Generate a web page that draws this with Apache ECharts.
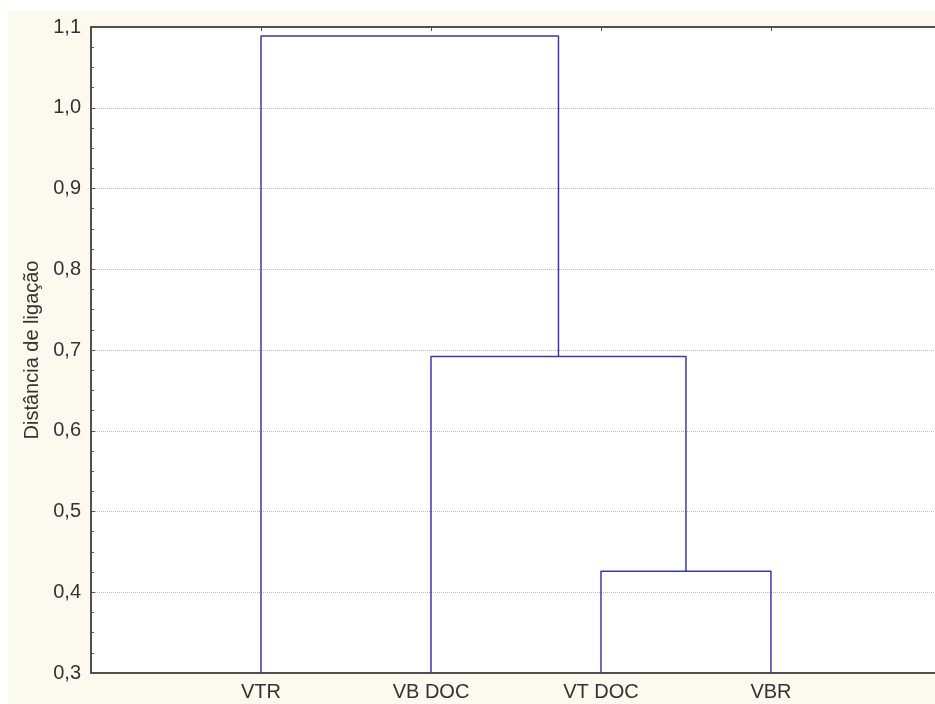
<!DOCTYPE html>
<html><head><meta charset="utf-8">
<script src="https://cdn.jsdelivr.net/npm/echarts@6/dist/echarts.min.js"></script>
<style>html,body{margin:0;padding:0;background:#fff}#c{width:935px;height:704px}</style>
</head><body><div id="c"></div>
<script>
// Leaves in display order
const leaves = ['VTR', 'VB DOC', 'VT DOC', 'VBR'];
// Merges: [left cluster, right cluster, linkage distance]; clusters referenced by leaf index or 'm'+merge index
const mergeLeft = [2, 1, 0];
const mergeRight = [3, 'm0', 'm1'];
const mergeHeight = [0.426, 0.692, 1.089];
const yTicks = [0.3, 0.4, 0.5, 0.6, 0.7, 0.8, 0.9, 1.0, 1.1];

// compute cluster positions via the axes (leaf i sits at x = i+1)
const pos = {};
const ht = {};
leaves.forEach((l, i) => { pos[i] = i + 1; ht[i] = yTicks[0]; });
const links = [];
mergeHeight.forEach((h, k) => {
  const a = mergeLeft[k], b = mergeRight[k];
  links.push([[pos[a], ht[a]], [pos[a], h], [pos[b], h], [pos[b], ht[b]]]);
  pos['m' + k] = (pos[a] + pos[b]) / 2;
  ht['m' + k] = h;
});

const lineColor = '#3a3aa8';
const series = links.map(d => ({
  type: 'line', data: d, symbol: 'none', silent: true,
  lineStyle: { color: lineColor, width: 1.5 }, animation: false, z: 5
}));

const font = 'Liberation Sans, Arial, sans-serif';
const chart = echarts.init(document.getElementById('c'), null, { renderer: 'canvas' });
chart.setOption({
  backgroundColor: '#ffffff',
  animation: false,
  graphic: [{ type: 'rect', shape: { x: 8, y: 11, width: 935, height: 704 }, style: { fill: '#fcf9ef' }, z: -10, silent: true }],
  grid: { left: 91, top: 27, right: 0, bottom: 31, show: true, backgroundColor: '#ffffff', borderWidth: 0, outerBoundsMode: 'none' },
  xAxis: [{
    type: 'value', min: 0, max: 4.965, interval: 1, position: 'bottom',
    axisLine: { show: true, onZero: false, lineStyle: { color: '#505050', width: 2 } },
    axisTick: { show: false },
    splitLine: { show: false },
    axisLabel: {
      color: '#333', fontSize: 20, fontFamily: font, margin: 9,
      showMinLabel: true, showMaxLabel: false,
      formatter: v => (v >= 1 && v <= leaves.length) ? leaves[v - 1] : ''
    }
  }, {
    type: 'value', min: 0, max: 4.965, interval: 1, position: 'top',
    axisLine: { show: true, onZero: false, lineStyle: { color: '#505050', width: 2 } },
    axisTick: { show: true, inside: true, length: 4, lineStyle: { color: '#505050' } },
    axisLabel: { show: false }, splitLine: { show: false }
  }],
  yAxis: {
    type: 'value', min: 0.3, max: 1.1, interval: 0.1,
    name: 'Distância de ligação', nameLocation: 'middle', nameGap: 41,
    nameTextStyle: { color: '#333', fontSize: 20, fontFamily: font },
    axisLine: { show: true, lineStyle: { color: '#505050', width: 2 } },
    axisTick: { show: true, inside: true, length: 4, lineStyle: { color: '#505050' } },
    minorTick: { show: true, splitNumber: 4, length: 3, lineStyle: { color: '#505050' } },
    splitLine: { show: true, lineStyle: { color: '#b8b8b8', type: [1, 1], width: 1 } },
    axisLabel: {
      color: '#333', fontSize: 20, fontFamily: font, margin: 10,
      formatter: v => v.toFixed(1).replace('.', ',')
    }
  },
  series: series
});
</script></body></html>
